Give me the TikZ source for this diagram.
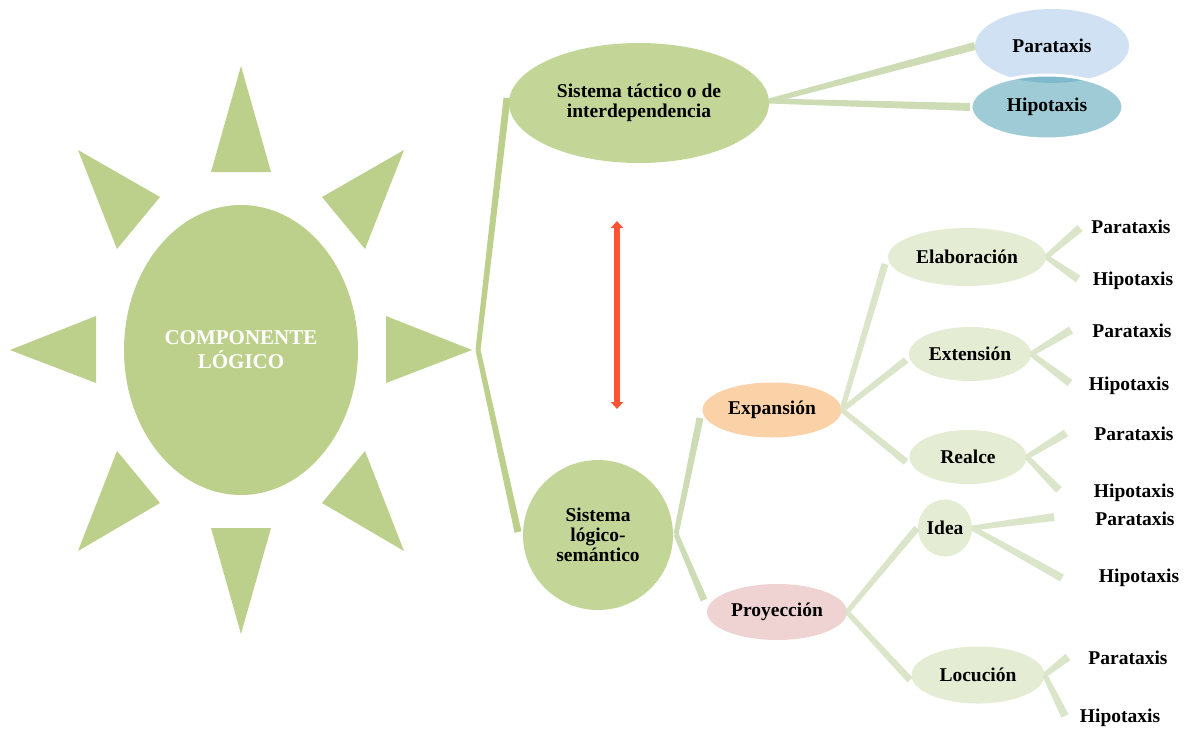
\documentclass[tikz,border=0pt]{standalone}
\usepackage{fontspec}
\setmainfont{Liberation Serif}
\usetikzlibrary{shapes.geometric,calc,arrows.meta}

\definecolor{sunc}{RGB}{189,208,139}
\definecolor{mainc}{RGB}{195,214,151}
\definecolor{linka}{RGB}{189,208,139}
\definecolor{linkb}{RGB}{205,220,181}
\definecolor{linkc}{RGB}{219,229,202}
\definecolor{paleg}{RGB}{228,236,211}
\definecolor{expc}{RGB}{251,209,168}
\definecolor{proc}{RGB}{239,211,211}
\definecolor{parac}{RGB}{207,225,243}
\definecolor{hipoc}{RGB}{158,203,214}
\definecolor{overc}{RGB}{128,185,204}
\definecolor{arrowc}{RGB}{255,84,54}

% tapered connector: from (#1) to (#2), half widths #3 and #4, colour #5
\newcommand\taperline[5]{%
  \fill[#5] ($(#1)!#3!90:(#2)$) -- ($(#2)!#4!-90:(#1)$) -- ($(#2)!#4!90:(#1)$)
    -- ($(#1)!#3!-90:(#2)$) -- cycle;}

\begin{document}
\begin{tikzpicture}[x=1pt,y=-1pt,
  lbl/.style={font=\bfseries\fontsize{19.5}{20}\selectfont, align=center, inner sep=0pt},
  bub/.style={lbl, ellipse, fill=#1},
  ray/.style={fill=sunc}]
\useasboundingbox (0,0) rectangle (1190,728);

% sun rays
\fill[ray] (241,66) -- (271,172) -- (211,172) -- cycle;
\fill[ray] (241,634) -- (271,528) -- (211,528) -- cycle;
\fill[ray] (10,350) -- (96,316) -- (96,383) -- cycle;
\fill[ray] (472,350) -- (386,316) -- (386,383) -- cycle;
\fill[ray] (78,150) -- (160,197) -- (117,249) -- cycle;
\fill[ray] (404,150) -- (322,197) -- (365,249) -- cycle;
\fill[ray] (78,551) -- (160,503) -- (117,451) -- cycle;
\fill[ray] (404,551) -- (322,503) -- (365,451) -- cycle;

% sun centre
\node[bub=sunc, minimum width=234pt, minimum height=290pt, text=white,
      font=\bfseries\fontsize{21}{24}\selectfont] (sun) at (241,350) {COMPONENTE\\LÓGICO};

% second level
\node[bub=mainc, minimum width=260pt, minimum height=120pt] (tact) at (639,103)
  {Sistema táctico o de\\interdependencia};
\node[bub=mainc, minimum width=150pt, minimum height=150pt] (logi) at (598,535)
  {Sistema\\lógico-\\semántico};

% taxis pair at the top
\node[bub=parac, minimum width=154pt, minimum height=74pt] (para) at (1052,46) {};
\node[bub=hipoc, minimum width=152pt, minimum height=64pt] (hipo) at (1047,107) {};
\begin{scope}
  \clip (para.center) ellipse [x radius=77, y radius=37];
  \fill[overc] (hipo.center) ellipse [x radius=76, y radius=32];
\end{scope}
\draw[white, line width=3pt] (hipo.center) ellipse [x radius=76, y radius=32];
\node[lbl] at (para.center) {Parataxis};
\node[lbl] at (hipo.center) {Hipotaxis};

% third level
\node[bub=expc, minimum width=139pt, minimum height=55pt] (exp) at (772,410) {Expansión};
\node[bub=proc, minimum width=140pt, minimum height=56pt] (proy) at (777,612) {Proyección};

% fourth level
\node[bub=paleg, minimum width=158pt, minimum height=58pt] (elab) at (967,257) {Elaboración};
\node[bub=paleg, minimum width=122pt, minimum height=54pt] (ext) at (970,354) {Extensión};
\node[bub=paleg, minimum width=117pt, minimum height=54pt] (real) at (968,457) {Realce};
\node[bub=paleg, minimum width=54pt, minimum height=57pt] (idea) at (945,528) {\makebox[0pt]{Idea}};
\node[bub=paleg, minimum width=133pt, minimum height=57pt] (locu) at (978,675) {Locución};

% leaves
\node[lbl] (e1p) at (1131,227) {Parataxis};
\node[lbl] (e1h) at (1133,281) {Hipotaxis};
\node[lbl] (e2p) at (1132,331) {Parataxis};
\node[lbl] (e2h) at (1129,386) {Hipotaxis};
\node[lbl] (e3p) at (1134,434) {Parataxis};
\node[lbl] (e3h) at (1134,493) {Hipotaxis};
\node[lbl] (e4p) at (1135,519) {Parataxis};
\node[lbl] (e4h) at (1139,578) {Hipotaxis};
\node[lbl] (e5p) at (1128,658) {Parataxis};
\node[lbl] (e5h) at (1120,718) {Hipotaxis};

% junctions and connector ends
\coordinate (sj) at (478,350);
\coordinate (tactin) at (507,98);
\coordinate (logiin) at (518,532);
\coordinate (tactout) at (769,101);
\coordinate (parain) at (975,46);
\coordinate (hipoin) at (970,107);
\coordinate (logiout) at (676,534);
\coordinate (expin) at (700,418);
\coordinate (proyin) at (704,600);
\coordinate (expout) at (842,410);
\coordinate (elabin) at (885,264);
\coordinate (extin) at (906,360);
\coordinate (realin) at (906,462);
\coordinate (proyout) at (847,612);
\coordinate (ideain) at (917,528);
\coordinate (locuin) at (910,680);
\coordinate (e1pin) at (1080,228);
\coordinate (e1hin) at (1078,279);
\coordinate (e2pin) at (1071,330);
\coordinate (e2hin) at (1070,383);
\coordinate (e3pin) at (1066,433);
\coordinate (e3hin) at (1059,490);
\coordinate (e4pin) at (1054,517);
\coordinate (e4hin) at (1062,578);
\coordinate (e5pin) at (1068,657);
\coordinate (e5hin) at (1065,716);

% connectors
\taperline{sj}{tactin}{2.5pt}{3.5pt}{linka}
\taperline{sj}{logiin}{2.5pt}{3.5pt}{linka}
\taperline{tactout}{parain}{2.5pt}{4pt}{linkb}
\taperline{tactout}{hipoin}{2.5pt}{4pt}{linkb}
\taperline{logiout}{expin}{2.5pt}{3.5pt}{linkb}
\taperline{logiout}{proyin}{2.5pt}{3.5pt}{linkb}
\taperline{expout}{elabin}{2.5pt}{3.5pt}{linkc}
\taperline{expout}{extin}{2.5pt}{3.5pt}{linkc}
\taperline{expout}{realin}{2.5pt}{3.5pt}{linkc}
\taperline{proyout}{ideain}{2.5pt}{3.5pt}{linkc}
\taperline{proyout}{locuin}{2.5pt}{3.5pt}{linkc}
\taperline{elab.east}{e1pin}{2.5pt}{4pt}{linkc}
\taperline{elab.east}{e1hin}{2.5pt}{4pt}{linkc}
\taperline{ext.east}{e2pin}{2.5pt}{4pt}{linkc}
\taperline{ext.east}{e2hin}{2.5pt}{4pt}{linkc}
\taperline{real.east}{e3pin}{2.5pt}{4pt}{linkc}
\taperline{real.east}{e3hin}{2.5pt}{4pt}{linkc}
\taperline{idea.east}{e4pin}{2.5pt}{4pt}{linkc}
\taperline{idea.east}{e4hin}{2.5pt}{4pt}{linkc}
\taperline{locu.east}{e5pin}{2.5pt}{4pt}{linkc}
\taperline{locu.east}{e5hin}{2.5pt}{4pt}{linkc}

% double arrow between the two systems
\coordinate (ra) at (617,221);
\coordinate (rb) at (617,409);
\draw[arrowc, line width=5.5pt,
  {Triangle[width=12pt,length=7pt]}-{Triangle[width=12pt,length=7pt]}] (ra) -- (rb);
\end{tikzpicture}
\end{document}
